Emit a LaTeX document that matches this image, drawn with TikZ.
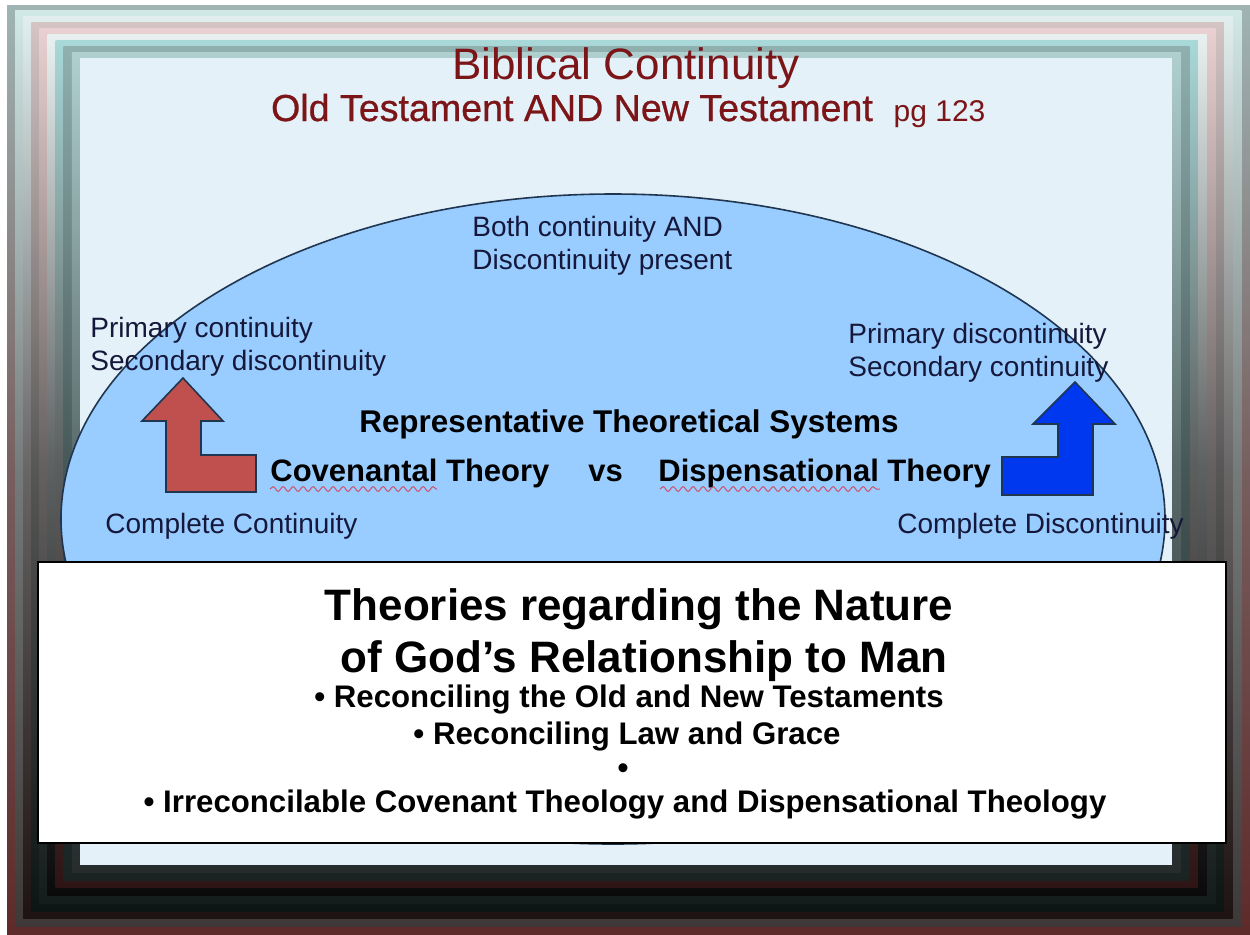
\documentclass[tikz,border=0pt]{standalone}
\usepackage{fontspec}
\setmainfont{Liberation Sans}
\newfontfamily\semibold[FakeBold=0.7]{Liberation Sans}
\usepackage{xcolor}
\definecolor{paneltint}{HTML}{E4F1F8}
\definecolor{ovalfill}{HTML}{99CCFF}
\definecolor{ovalline}{HTML}{1F3550}
\definecolor{titlered}{HTML}{7B1518}
\definecolor{inktext}{HTML}{15183A}
\definecolor{redarrow}{HTML}{C0504D}
\definecolor{bluearrow}{HTML}{0038F0}
\definecolor{squiggle}{HTML}{D0506A}
\usepackage{tikz}
\usetikzlibrary{positioning,calc,decorations.pathmorphing}
\tikzset{
    plain/.style={
        text=inktext,
        font=\fontsize{14}{16}\selectfont,
        inner sep=0pt,
        anchor=base west,
    },
    heading/.style={
        text=black,
        font=\bfseries\fontsize{15.5}{18}\selectfont,
        inner sep=0pt,
    },
    boxline/.style={
        text=black,
        font=\bfseries\fontsize{15.6}{18}\selectfont,
        inner sep=0pt,
        anchor=base,
    },
    bigline/.style={
        text=black,
        font=\bfseries\fontsize{22}{26}\selectfont,
        inner sep=0pt,
        anchor=base,
    },
    bentarrow/.style={
        draw=ovalline,
        line width=0.8pt,
        line join=miter,
    },
    spell/.style={
        draw=squiggle,
        line width=0.5pt,
        decorate,
        decoration={snake, amplitude=1.2pt, segment length=5pt},
    },
}

\begin{document}
\begin{tikzpicture}[x=0.5pt,y=-0.5pt]
        \useasboundingbox (0,0) rectangle (1250,934);
        \fill[white] (0,0) rectangle (1250,934);

        % bevelled frame, light on top and dark at the foot
        \foreach \ct/\cb [count=\i from 0] in {A0B4B4/5E2A2A, D0E8E6/3E3838, E2EEEE/1E1212,
                D4C4C4/0C1414, EAD0D0/141C1C, E8F0F0/0A0A0A, A8D8D8/2E1414, 90B0B0/1A2222, B0D0D0/262C2C} {
            \definecolor{ringtop}{HTML}{\ct}
            \definecolor{ringbot}{HTML}{\cb}
            \shade[top color=ringtop, bottom color=ringbot, middle color=ringtop!38!ringbot]
                (7+8.1*\i,5+5.9*\i) rectangle (1250-8.67*\i,934-7.67*\i);
        }
        \fill[paneltint] (80,58) rectangle (1172,865);

        % title
        \node[text=titlered, font=\fontsize{22}{26}\selectfont, inner sep=0pt, anchor=base] (title) at (626,79) {Biblical Continuity};
        \node[text=titlered, font=\semibold\fontsize{18.8}{21}\selectfont, inner sep=0pt, anchor=base] (subtitle) at (572,121) {Old Testament AND New Testament};
        \node[text=titlered, font=\fontsize{15}{18}\selectfont, inner sep=0pt, right=20 of subtitle.base east, anchor=base west] (page) {pg 123};

        % the oval
        \draw[fill=ovalfill, draw=ovalline, line width=0.8pt] (613,519) ellipse [x radius=552, y radius=325];

        \node[plain] (both1) at (472,236) {Both continuity AND};
        \node[plain] (both2) at (472,269) {Discontinuity present};
        \node[plain] (leftp1) at (90,337) {Primary continuity};
        \node[plain] (leftp2) at (90,370) {Secondary discontinuity};
        \node[plain] (rightp1) at (848,343) {Primary discontinuity};
        \node[plain] (rightp2) at (848,376) {Secondary continuity};
        \node[plain] (leftend) at (105,533) {Complete Continuity};
        \node[plain] (rightend) at (897,533) {Complete Discontinuity};

        \node[heading, font=\bfseries\fontsize{15.7}{18}\selectfont, anchor=base] (systems) at (629,432) {Representative Theoretical Systems};
        \node[heading, anchor=base west] (cov) at (270,481) {Covenantal Theory};
        \node[heading, anchor=base west] (vs) at (588,481) {vs};
        \node[heading, anchor=base west] (disp) at (658,481) {Dispensational Theory};
        \draw[spell] ($(cov.base west)+(0,8)$) -- ($(cov.base west)+(167,8)$);
        \draw[spell] ($(disp.base west)+(2,8)$) -- ($(disp.base west)+(222,8)$);

        % bent block arrows
        \draw[bentarrow, fill=redarrow] (183,378) -- (223,421) -- (201,421) -- (201,455) -- (256,455)
            -- (256,492) -- (166,492) -- (166,421) -- (142,421) -- cycle;
        \draw[bentarrow, fill=bluearrow] (1075,382) -- (1115,424) -- (1093,424) -- (1093,495) -- (1002,495)
            -- (1002,457) -- (1058,457) -- (1058,424) -- (1033,424) -- cycle;

        % caption box
        \draw[black, fill=white, line width=0.8pt] (38,562) rectangle (1226,843);
        \node[bigline] (theories) at (639,620) {Theories regarding the Nature};
        \node[bigline] (relation) at (644,672) {of God's Relationship to Man};
        \node[boxline] (point1) at (629,707) {• Reconciling the Old and New Testaments};
        \node[boxline] (point2) at (627,744) {• Reconciling Law and Grace};
        \node[boxline] (point3) at (623,778) {•};
        \node[boxline] (point4) at (625,812) {• Irreconcilable Covenant Theology and Dispensational Theology};
    \end{tikzpicture}
\end{document}
